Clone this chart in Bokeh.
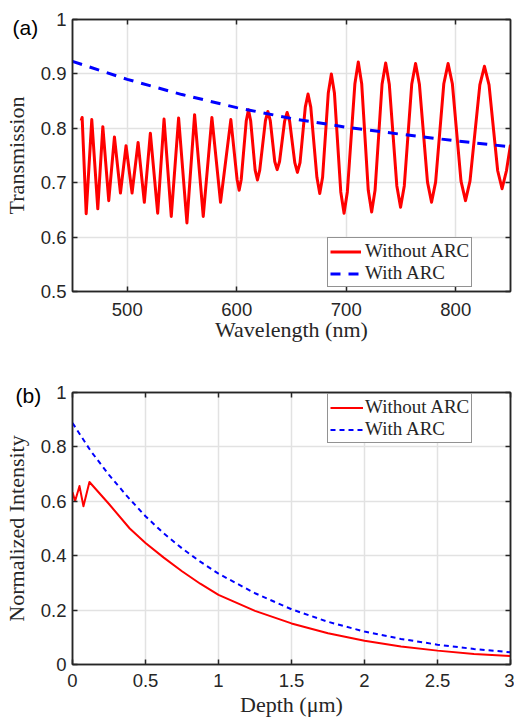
from bokeh.plotting import figure
from bokeh.layouts import column
from bokeh.models import Range1d, LinearAxis, Legend, LegendItem, Title, FixedTicker
from bokeh.embed import file_html
from bokeh.resources import INLINE

# ---------------- data: panel (a) ----------------
wl_without = [457.9, 458.8, 462.5, 467.6, 473.1, 477.7, 483.1, 488.3, 493.8, 498.9,
              504.4, 509.9, 515.6, 521.1, 527.8, 533.6, 540.2, 546.9, 554.5, 561.5,
              569.4, 577.3, 585.2, 594.6,
              600.3, 602.2, 604.1, 608.7, 610.7, 612.7, 616.8, 618.9, 621.0,
              626.2, 628.4, 630.6, 634.7, 636.9, 639.1, 643.7, 646.0, 648.3,
              653.0, 655.4, 657.8, 662.6, 665.1, 667.6, 673.2, 675.8, 678.4,
              683.6, 686.4, 689.2, 695.0, 698.0, 701.0, 707.9, 711.0, 714.1,
              720.1, 723.2, 726.3, 732.7, 736.0, 739.3, 746.2, 749.6, 753.0,
              759.8, 763.3, 766.8, 774.2, 777.9, 781.6, 789.1, 793.0, 796.9,
              804.8, 808.9, 813.0, 822.0, 826.2, 830.4, 838.3, 842.3, 846.3, 850.0]
T_without = [0.814, 0.820, 0.643, 0.816, 0.652, 0.803, 0.667, 0.784, 0.681, 0.768,
             0.681, 0.774, 0.664, 0.791, 0.644, 0.817, 0.638, 0.819, 0.626, 0.825,
             0.638, 0.820, 0.664, 0.816,
             0.706, 0.686, 0.706, 0.814, 0.834, 0.814, 0.723, 0.705, 0.723,
             0.814, 0.831, 0.814, 0.739, 0.724, 0.739, 0.813, 0.829, 0.813,
             0.737, 0.719, 0.737, 0.839, 0.863, 0.839, 0.710, 0.680, 0.710,
             0.865, 0.900, 0.865, 0.683, 0.644, 0.683, 0.882, 0.922, 0.882,
             0.686, 0.646, 0.686, 0.881, 0.920, 0.881, 0.694, 0.655, 0.694,
             0.881, 0.919, 0.881, 0.701, 0.664, 0.701, 0.882, 0.919, 0.882,
             0.703, 0.667, 0.703, 0.880, 0.914, 0.880, 0.722, 0.689, 0.722, 0.770]
wl_with = [450, 500, 550, 600, 650, 700, 750, 800, 850]
T_with = [0.923, 0.890, 0.862, 0.838, 0.818, 0.802, 0.789, 0.777, 0.766]

a_xticks = [500, 600, 700, 800]
a_xlabels = ["500", "600", "700", "800"]
a_yticks = [0.5, 0.6, 0.7, 0.8, 0.9, 1.0]
a_ylabels = ["0.5", "0.6", "0.7", "0.8", "0.9", "1"]

# ---------------- data: panel (b) ----------------
depth_without = [0.0, 0.018, 0.048, 0.075, 0.116, 0.25, 0.392, 0.5, 0.625, 0.75, 0.875,
                 1.0, 1.25, 1.5, 1.75, 2.0, 2.25, 2.5, 2.75, 3.0]
I_without = [0.633, 0.601, 0.656, 0.582, 0.671, 0.590, 0.500, 0.447, 0.393, 0.343, 0.297,
             0.256, 0.197, 0.151, 0.115, 0.087, 0.066, 0.051, 0.039, 0.031]
depth_with = [0.0, 0.125, 0.25, 0.375, 0.5, 0.625, 0.75, 0.875, 1.0, 1.25, 1.5, 1.75,
              2.0, 2.25, 2.5, 2.75, 3.0]
I_with = [0.888, 0.785, 0.697, 0.618, 0.545, 0.482, 0.427, 0.378, 0.334, 0.262, 0.203,
          0.157, 0.121, 0.094, 0.073, 0.057, 0.045]

b_xticks = [0, 0.5, 1, 1.5, 2, 2.5, 3]
b_xlabels = ["0", "0.5", "1", "1.5", "2", "2.5", "3"]
b_yticks = [0, 0.2, 0.4, 0.6, 0.8, 1]
b_ylabels = ["0", "0.2", "0.4", "0.6", "0.8", "1"]

series_names = ["Without ARC", "With ARC"]
panel_tags = ["(a)", "(b)"]

AX = "#262626"
GRID = "#e2e2e2"
TICK_FONT = "Liberation Sans"
LABEL_FONT = "Liberation Serif"


def style(p, xt, xl, yt, yl, xlabel, ylabel, tick_standoff, xlab_standoff):
    p.outline_line_color = AX
    p.outline_line_width = 1.5
    p.outline_line_alpha = 1
    p.background_fill_color = "white"
    p.border_fill_color = "white"
    for ax, t, l, lab in ((p.xaxis[0], xt, xl, xlabel), (p.yaxis[0], yt, yl, ylabel)):
        ax.ticker = FixedTicker(ticks=t)
        ax.major_label_overrides = dict(zip(t, l))
        ax.major_tick_in = 5
        ax.major_tick_out = 0
        ax.minor_tick_line_color = None
        ax.axis_line_color = AX
        ax.axis_line_width = 1.5
        ax.major_tick_line_color = AX
        ax.major_tick_line_width = 1.5
        ax.major_label_text_font = TICK_FONT
        ax.major_label_text_font_size = "18.5px"
        ax.major_label_text_color = AX
        ax.axis_label = lab
        ax.axis_label_text_font = LABEL_FONT
        ax.axis_label_text_font_size = "22px"
        ax.axis_label_text_font_style = "normal"
        ax.axis_label_text_color = AX
    p.xaxis[0].major_label_standoff = tick_standoff
    p.xaxis[0].axis_label_standoff = xlab_standoff
    p.yaxis[0].major_label_standoff = 6
    p.yaxis[0].axis_label_standoff = 9
    for t, place in ((xt, "above"), (yt, "right")):
        ax = LinearAxis(ticker=FixedTicker(ticks=t), major_tick_in=5, major_tick_out=0,
                        minor_tick_line_color=None, axis_line_color=AX, axis_line_width=1.5,
                        major_tick_line_color=AX, major_tick_line_width=1.5,
                        major_label_text_font_size="0px", major_label_text_color=None,
                        major_label_standoff=0, axis_label_standoff=0)
        p.add_layout(ax, place)
    p.xgrid.grid_line_color = GRID
    p.ygrid.grid_line_color = GRID
    p.xgrid.grid_line_width = 1.5
    p.ygrid.grid_line_width = 1.5


def make_legend(p, renderers, loc, glyph_w, standoff):
    items = [LegendItem(label=n, renderers=[r]) for n, r in zip(series_names, renderers)]
    leg = Legend(items=items, location=loc)
    leg.label_text_font = LABEL_FONT
    leg.label_text_font_size = "19px"
    leg.label_text_color = AX
    leg.glyph_width = glyph_w
    leg.glyph_height = 19
    leg.label_height = 19
    leg.label_standoff = standoff
    leg.padding = 2
    leg.spacing = 0
    leg.margin = 0
    leg.border_line_color = AX
    leg.border_line_width = 1.5
    leg.background_fill_color = "white"
    leg.background_fill_alpha = 1
    p.add_layout(leg)


def tag(p, text, offset, standoff):
    t = Title(text=text, align="left", offset=offset, standoff=standoff,
              vertical_align="bottom", text_font=TICK_FONT, text_font_size="21px",
              text_font_style="normal", text_color="black")
    p.add_layout(t, "above")


# ---------------- panel (a) ----------------
p1 = figure(width=514, height=360, x_range=Range1d(450, 850), y_range=Range1d(0.5, 1),
            output_backend="svg", toolbar_location=None,
            min_border_left=72, min_border_right=2, min_border_top=19, min_border_bottom=69)
style(p1, a_xticks, a_xlabels, a_yticks, a_ylabels, "Wavelength (nm)", "Transmission", 11, -2)
ra1 = p1.line(wl_without, T_without, line_color="#ff0000", line_width=3, line_join="round")
ra2 = p1.line(wl_with, T_with, line_color="#0000ff", line_width=3, line_dash="10 8")
make_legend(p1, [ra1, ra2], (255, 4), 31, 4)
tag(p1, panel_tags[0], -60, -38)

# ---------------- panel (b) ----------------
p2 = figure(width=514, height=360, x_range=Range1d(0, 3), y_range=Range1d(0, 1),
            output_backend="svg", toolbar_location=None,
            min_border_left=69, min_border_right=4, min_border_top=32, min_border_bottom=56)
style(p2, b_xticks, b_xlabels, b_yticks, b_ylabels, "Depth (\u03bcm)", "Normalized Intensity", 9, 2)
rb1 = p2.line(depth_without, I_without, line_color="#ff0000", line_width=2, line_join="round")
rb2 = p2.line(depth_with, I_with, line_color="#0000ff", line_width=2, line_dash="5 4")
make_legend(p2, [rb1, rb2], (255, 221), 33, 2)
tag(p2, panel_tags[1], -57, -28)

layout = column(p1, p2)
open("out.html", "w").write(file_html(layout, INLINE))
